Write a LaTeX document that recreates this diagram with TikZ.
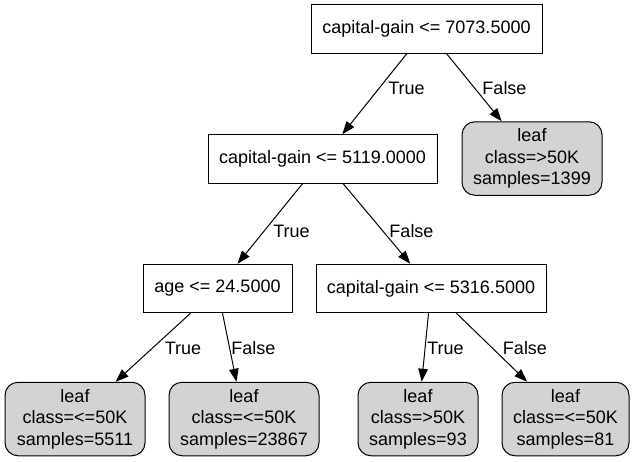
\documentclass[tikz,border=0pt]{standalone}
\usepackage{fontspec}
\setmainfont{Liberation Sans}
\usetikzlibrary{arrows.meta}
\definecolor{leafgray}{RGB}{211,211,211}
\begin{document}
\begin{tikzpicture}[x=1pt,y=-1pt,
  every node/.style={font=\fontsize{18}{21.5}\selectfont},
  split/.style={draw=black,line width=1pt,rectangle,inner sep=0pt,minimum height=48.5pt},
  leafbox/.style={draw=black,line width=1pt,rectangle,rounded corners=13pt,fill=leafgray,inner sep=0pt,minimum height=73.5pt,align=center},
  edge/.style={line width=1pt,-{Triangle[length=13pt,width=9.5pt]}},
  lab/.style={inner sep=0pt}]
\useasboundingbox (0,0) rectangle (635,461);
\node[split,minimum width=231pt] (root) at (426.5,29) {capital-gain <= 7073.5000};
\node[split,minimum width=229pt] (n1) at (322.5,159) {capital-gain <= 5119.0000};
\node[leafbox,minimum width=140pt] (lf1399) at (532,158.5) {leaf\\class=>50K\\samples=1399};
\node[split,minimum width=149pt] (age) at (217.5,288.5) {age <= 24.5000};
\node[split,minimum width=230pt] (n2) at (431,288.5) {capital-gain <= 5316.5000};
\node[leafbox,minimum width=140pt] (lf5511) at (75,419) {leaf\\class=<=50K\\samples=5511};
\node[leafbox,minimum width=150pt] (lf23867) at (244,419) {leaf\\class=<=50K\\samples=23867};
\node[leafbox,minimum width=120pt] (lf93) at (418,419) {leaf\\class=>50K\\samples=93};
\node[leafbox,minimum width=127pt] (lf81) at (565.5,419) {leaf\\class=<=50K\\samples=81};
\draw[edge] (root) -- (n1);
\draw[edge] (root) -- (lf1399);
\draw[edge] (n1) -- (age);
\draw[edge] (n1) -- (n2);
\draw[edge] (age) -- (lf5511);
\draw[edge] (age) -- (lf23867);
\draw[edge] (n2) -- (lf93);
\draw[edge] (n2) -- (lf81);
\node[lab] (t1) at (406.5,88) {True};
\node[lab] (f1) at (504.5,88) {False};
\node[lab] (t2) at (291.5,231) {True};
\node[lab] (f2) at (411.5,231) {False};
\node[lab] (t3) at (183,348) {True};
\node[lab] (f3) at (253.5,348) {False};
\node[lab] (t4) at (445.5,348) {True};
\node[lab] (f4) at (525,348) {False};
\end{tikzpicture}
\end{document}
